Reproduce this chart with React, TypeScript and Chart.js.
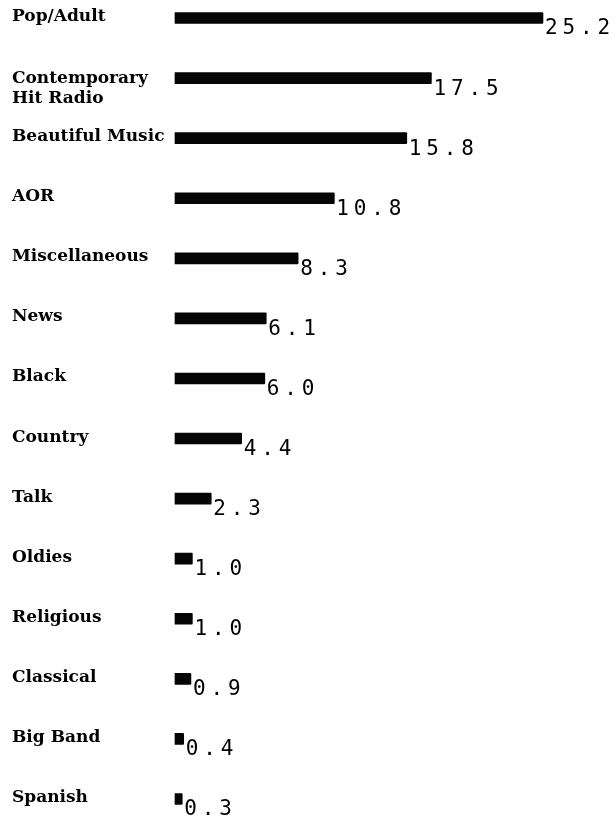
import React, { useEffect, useRef } from "react";
import { Chart, registerables } from "chart.js";

Chart.register(...registerables);

const categories: string[][] = [
  ["Pop/Adult"],
  ["Contemporary", "Hit Radio"],
  ["Beautiful Music"],
  ["AOR"],
  ["Miscellaneous"],
  ["News"],
  ["Black"],
  ["Country"],
  ["Talk"],
  ["Oldies"],
  ["Religious"],
  ["Classical"],
  ["Big Band"],
  ["Spanish"],
];

const shares: number[] = [25.2, 17.5, 15.8, 10.8, 8.3, 6.1, 6.0, 4.4, 2.3, 1.0, 1.0, 0.9, 0.4, 0.3];

const axisMin = -0.2;
const axisMax = 30;

const LABEL_FONT = "bold 17px 'DejaVu Serif'";
const VALUE_FONT = "21px 'DejaVu Sans Mono'";
const VALUE_ADVANCE = 17.5;

const labelPlugin = {
  id: "barLabels",
  afterDatasetsDraw(chart: any) {
    const ctx = chart.ctx as CanvasRenderingContext2D;
    const meta = chart.getDatasetMeta(0);
    ctx.save();
    meta.data.forEach((bar: any, i: number) => {
      ctx.fillStyle = "#000";
      ctx.textAlign = "left";
      ctx.textBaseline = "alphabetic";
      ctx.font = LABEL_FONT;
      const lines = categories[i];
      lines.forEach((line, j) => {
        ctx.fillText(line, 12, bar.y + (lines.length > 1 ? 5 : 3) + j * 20);
      });
      ctx.font = VALUE_FONT;
      ctx.textBaseline = "middle";
      const txt = shares[i].toFixed(1);
      let x = bar.x + 2;
      const y = bar.y + 11;
      for (const ch of txt) {
        ctx.fillText(ch, x, y);
        x += VALUE_ADVANCE;
      }
    });
    ctx.restore();
  },
};

export default function App() {
  const ref = useRef<HTMLCanvasElement | null>(null);
  useEffect(() => {
    document.body.style.margin = "0";
    const canvas = ref.current;
    if (!canvas) return;
    const chart = new Chart(canvas, {
      type: "bar",
      data: {
        labels: categories,
        datasets: [
          {
            data: shares,
            base: axisMin,
            clip: false,
            backgroundColor: "#050505",
            barThickness: 11,
            borderRadius: 1,
          } as any,
        ],
      },
      options: {
        indexAxis: "y",
        responsive: false,
        animation: false,
        layout: { padding: { left: 175, right: 3.5, top: 18, bottom: 22 } },
        scales: {
          x: { display: false, min: axisMin, max: axisMax },
          y: { display: false, offset: false },
        },
        plugins: {
          legend: { display: false },
          tooltip: { enabled: false },
        },
      },
      plugins: [labelPlugin],
    });
    return () => chart.destroy();
  }, []);
  return (
    <div style={{ width: 616, height: 821, background: "#fff" }}>
      <canvas ref={ref} width={616} height={821} />
    </div>
  );
}
